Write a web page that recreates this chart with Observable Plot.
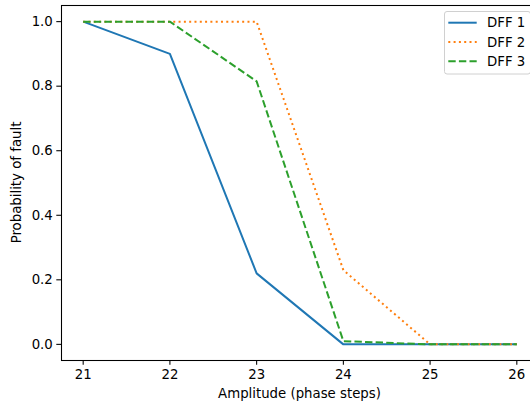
<!DOCTYPE html>
<html>
<head>
<meta charset="utf-8">
<script src="https://cdn.jsdelivr.net/npm/d3@7"></script>
<script src="https://cdn.jsdelivr.net/npm/@observablehq/plot@0.6"></script>
<style>
  html, body { margin: 0; padding: 0; background: #fff; }
  #chart { width: 530px; height: 404px; overflow: hidden; }
</style>
</head>
<body>
<div id="chart"></div>
<script>
const amplitudes = [21, 22, 23, 24, 25, 26];
const dff1 = [1.0, 0.9, 0.22, 0.0, 0.0, 0.0];
const dff2 = [1.0, 1.0, 1.0, 0.23, 0.0, 0.0];
const dff3 = [1.0, 1.0, 0.815, 0.01, 0.0, 0.0];
const seriesNames = ["DFF 1", "DFF 2", "DFF 3"];
const seriesColors = ["#1f77b4", "#ff7f0e", "#2ca02c"];
const yTicks = [0, 0.2, 0.4, 0.6, 0.8, 1.0];
const xTicks = [21, 22, 23, 24, 25, 26];
const xLabel = "Amplitude (phase steps)";
const yLabel = "Probability of fault";

const seriesValues = [dff1, dff2, dff3];
const dashes = ["none", "2 3.3", "7.4 3.2"];
const rows = [];
seriesValues.forEach((vals, i) => {
  vals.forEach((v, j) => rows.push({series: seriesNames[i], x: amplitudes[j], y: v}));
});

const font = "'DejaVu Sans', sans-serif";
const fs = "13.3px";

const plot = Plot.plot({
  width: 530,
  height: 404,
  marginLeft: 61,
  marginRight: -8,
  marginTop: 5,
  marginBottom: 44,
  style: {fontFamily: font, fontSize: fs, color: "#000", background: "#fff", overflow: "hidden"},
  x: {domain: [20.75, 26.25], label: null},
  y: {domain: [-0.05, 1.05], label: null},
  marks: [
    Plot.frame({stroke: "#000", strokeWidth: 1.07}),
    ...seriesNames.map((name, i) =>
      Plot.line(rows.filter(d => d.series === name), {
        x: "x", y: "y",
        stroke: seriesColors[i],
        strokeWidth: 2,
        strokeDasharray: dashes[i],
        strokeLinecap: "butt",
        strokeLinejoin: "round"
      })
    ),
    Plot.axisX(xTicks, {tickSize: 4.7, tickPadding: 4, stroke: "#000", fill: "#000", strokeWidth: 1.07, label: null, fontSize: fs}),
    Plot.axisY(yTicks, {tickSize: 4.7, tickPadding: 4, stroke: "#000", fill: "#000", strokeWidth: 1.07, label: null, tickFormat: d3.format(".1f"), fontSize: fs})
  ]
});

document.getElementById("chart").appendChild(plot);

const svg = d3.select(plot);
// Axis titles
svg.append("text")
  .attr("x", 299.5).attr("y", 398)
  .attr("text-anchor", "middle")
  .attr("font-family", font).attr("font-size", fs).attr("fill", "#000")
  .text(xLabel);
svg.append("text")
  .attr("transform", "translate(21,182.5) rotate(-90)")
  .attr("text-anchor", "middle")
  .attr("font-family", font).attr("font-size", fs).attr("fill", "#000")
  .text(yLabel);

// Legend
const lg = svg.append("g");
lg.append("rect")
  .attr("x", 444.5).attr("y", 11.5).attr("width", 86).attr("height", 62.5)
  .attr("rx", 2.5).attr("fill", "#fff").attr("fill-opacity", 0.8)
  .attr("stroke", "#d0d0d0").attr("stroke-width", 1);
seriesNames.forEach((name, i) => {
  const yy = 22.7 + i * 19.3;
  lg.append("line")
    .attr("x1", 448.3).attr("x2", 476.7).attr("y1", yy).attr("y2", yy)
    .attr("stroke", seriesColors[i]).attr("stroke-width", 2)
    .attr("stroke-dasharray", dashes[i]);
  lg.append("text")
    .attr("x", 487).attr("y", yy).attr("dy", "0.36em")
    .attr("text-anchor", "start")
    .attr("font-family", font).attr("font-size", fs).attr("fill", "#000")
    .text(name);
});
</script>
</body>
</html>
